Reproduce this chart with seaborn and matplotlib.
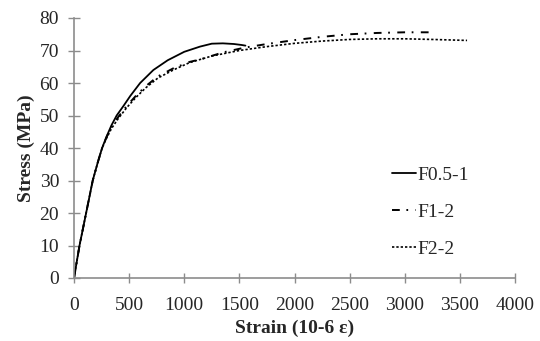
import numpy as np
import pandas as pd
import matplotlib
matplotlib.use("Agg")
import matplotlib.pyplot as plt
import seaborn as sns

sns.set_style("white")
plt.rcParams['font.family'] = ['Liberation Serif', 'DejaVu Serif']

series_names = ["F0.5-1", "F1-2", "F2-2"]

f05_strain = [0, 50, 110, 170, 215, 255, 295, 340, 387, 450, 510, 600, 720, 850, 1000, 1143, 1250, 1350, 1450, 1520, 1555]
f05_stress = [0, 10, 20, 30, 35.5, 40, 43.5, 47, 50, 53, 56, 60, 64, 67, 69.6, 71.2, 72.1, 72.2, 72.0, 71.7, 71.5]

f12_strain = [0, 50, 110, 170, 215, 255, 295, 340, 400, 480, 560, 650, 760, 900, 1050, 1150, 1350, 1550, 1750, 2000, 2250, 2500, 2750, 3000, 3250]
f12_stress = [0, 10, 20, 30, 35.5, 40, 43.3, 46.5, 49.5, 53, 56, 59, 62, 64.5, 66.5, 67.3, 69.4, 70.9, 72.0, 73.2, 74.2, 75.0, 75.4, 75.6, 75.6]

f22_strain = [0, 50, 110, 170, 215, 255, 295, 340, 400, 480, 560, 650, 760, 900, 1050, 1250, 1500, 1750, 2000, 2250, 2500, 2750, 3000, 3250, 3565]
f22_stress = [0, 10, 20, 30, 35.5, 40, 43, 46, 49, 52.5, 55.5, 58.5, 61.5, 64, 66.3, 68.3, 70, 71.2, 72.2, 72.9, 73.4, 73.6, 73.6, 73.4, 73.1]

x_ticks = [0, 500, 1000, 1500, 2000, 2500, 3000, 3500, 4000]
y_ticks = [0, 10, 20, 30, 40, 50, 60, 70, 80]

frames = []
for name, xs, ys in zip(series_names, [f05_strain, f12_strain, f22_strain],
                        [f05_stress, f12_stress, f22_stress]):
    frames.append(pd.DataFrame({"strain": xs, "stress": ys, "series": name,
                                "order": range(len(xs))}))
df = pd.concat(frames, ignore_index=True)

fig = plt.figure(figsize=(5.4, 3.41), dpi=100)
ax = fig.add_axes([74/540, 1-278/341, (515-74)/540, (278-18)/341])

dash_map = {"F0.5-1": "", "F1-2": (4.0, 3.4, 0.9, 3.8), "F2-2": (1.4, 1.2)}
lw_map = {"F0.5-1": 1.3, "F1-2": 1.4, "F2-2": 1.2}
sns.lineplot(data=df, x="strain", y="stress", hue="series", style="series",
             hue_order=series_names, style_order=series_names,
             palette=["black"]*3, dashes=dash_map, sort=False, estimator=None,
             units="series", legend=False, ax=ax, lw=1.3)
for line, name in zip(ax.get_lines(), series_names):
    line.set_linewidth(lw_map[name])

ax.set_xlim(0, 4000)
ax.set_ylim(0, 80)
ax.set_xticks(x_ticks)
ax.set_yticks(y_ticks)
ax.set_xticklabels([str(t) for t in x_ticks])
ax.set_yticklabels([str(t) for t in y_ticks])

gray = "#8c8c8c"
for s in ["top", "right"]:
    ax.spines[s].set_visible(False)
for s in ["left", "bottom"]:
    ax.spines[s].set_color(gray)
    ax.spines[s].set_linewidth(1.2)
ax.tick_params(axis="y", direction="inout", length=8.5, width=1.0, color=gray,
               labelsize=14, pad=6.5, left=True)
ax.tick_params(axis="x", direction="inout", length=7, width=1.0, color=gray,
               labelsize=14, pad=10, bottom=True)
ax.set_xlabel("Strain (10-6 ε)", fontsize=14, fontweight="bold", labelpad=4)
ax.set_ylabel("Stress (MPa)", fontsize=14, fontweight="bold", labelpad=3)

handles = ax.get_lines()[:3]
leg = fig.legend(handles=handles, labels=series_names, loc="upper left",
                 bbox_to_anchor=(392/540, 1-166/341), frameon=False,
                 fontsize=14, handlelength=1.25, handletextpad=0.05,
                 labelspacing=1.0, borderpad=0, borderaxespad=0)

fig.savefig("out.png", dpi=100)
